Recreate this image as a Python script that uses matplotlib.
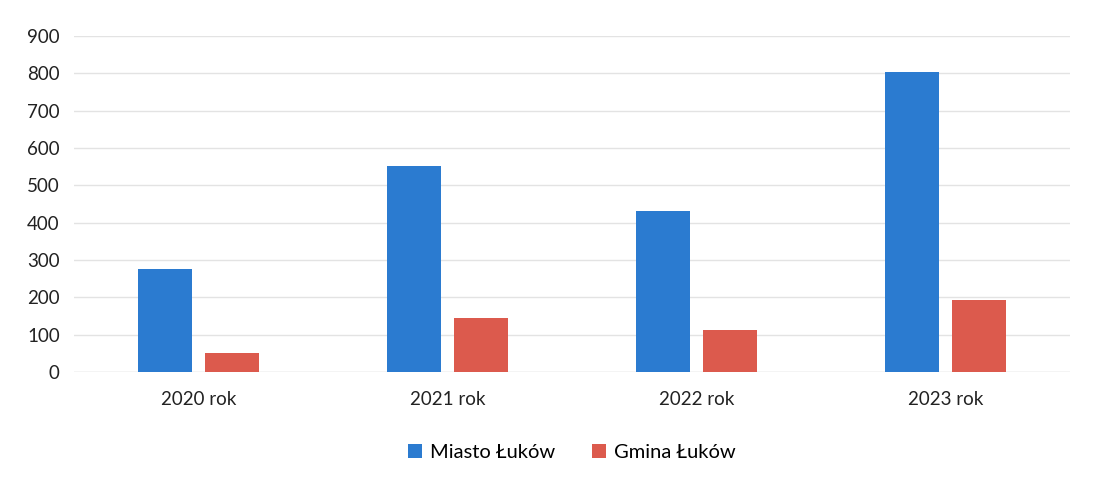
import matplotlib.pyplot as plt
import numpy as np

plt.rcParams['font.family'] = ['Lato', 'DejaVu Sans']

years = ['2020 rok', '2021 rok', '2022 rok', '2023 rok']
miasto = [275, 552, 430, 805]
gmina = [50, 145, 113, 193]

blue = '#2b7bd0'
red = '#dc5a4d'

fig = plt.figure(figsize=(11.17, 4.88), dpi=100)
ax = fig.add_axes([0.066, 0.238, 0.892, 0.688])

x = np.arange(len(years))
w = 0.217
ax.bar(x - 0.135, miasto, width=w, color=blue, label='Miasto Łuków', zorder=3)
ax.bar(x + 0.135, gmina, width=w, color=red, label='Gmina Łuków', zorder=3)

ax.set_xlim(-0.5, 3.5)
ax.set_ylim(0, 900)
ax.set_yticks(range(0, 901, 100))
ax.set_xticks(x)
ax.set_xticklabels(years)
ax.yaxis.grid(True, color='#e3e3e3', linewidth=1, zorder=0)
ax.tick_params(axis='both', length=0, labelsize=13.5, colors='#222222')
ax.tick_params(axis='x', pad=14)
ax.tick_params(axis='y', pad=10)
for s in ax.spines.values():
    s.set_visible(False)
ax.axhline(0, color='#e3e3e3', linewidth=1, zorder=1)

fig.legend(loc='center', bbox_to_anchor=(0.512, 0.073), ncol=2, frameon=False,
           fontsize=14.5, handlelength=0.7, handleheight=0.7, columnspacing=1.8,
           handletextpad=0.4)

fig.savefig('out.png', dpi=100)
